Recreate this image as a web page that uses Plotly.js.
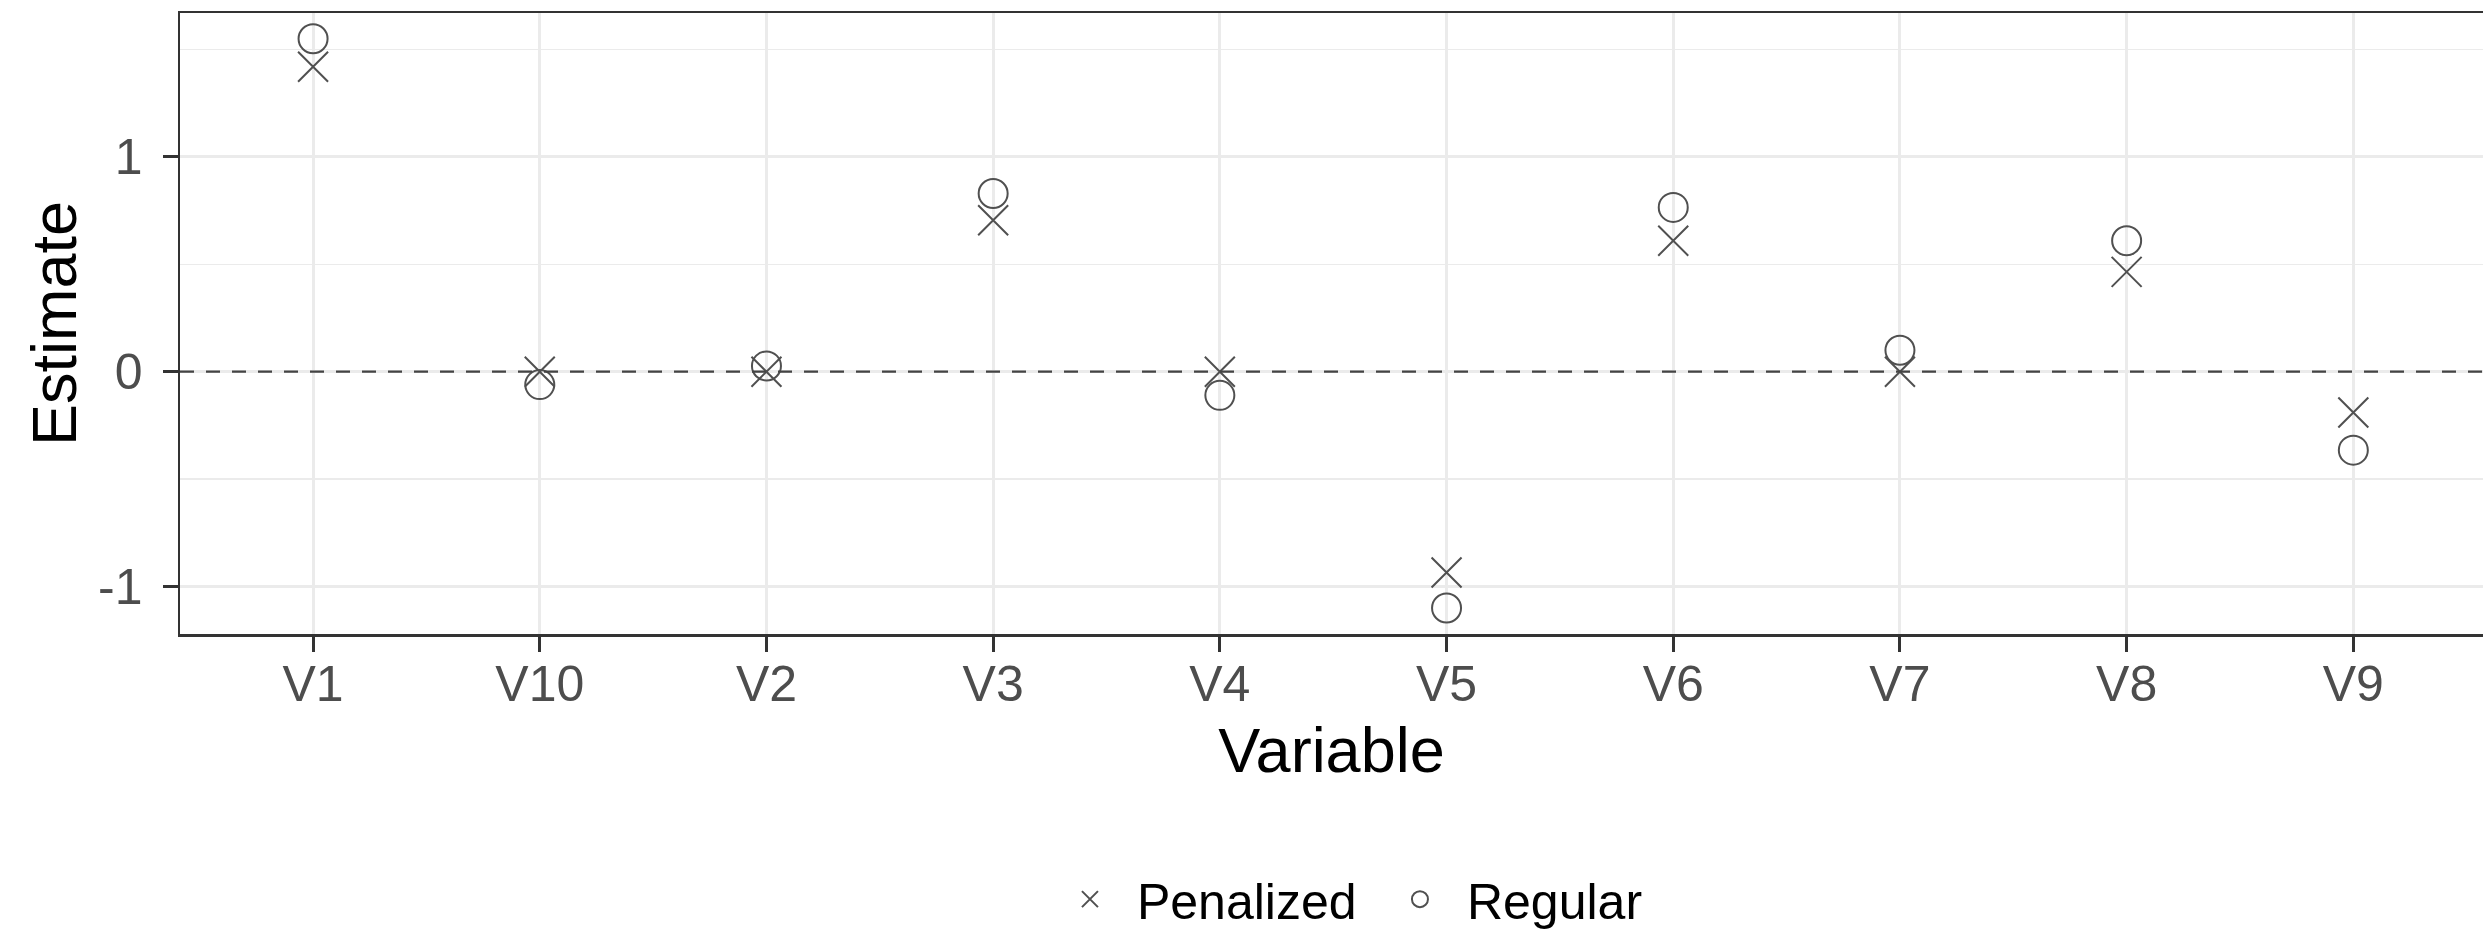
<!DOCTYPE html>
<html>
<head>
<meta charset="utf-8">
<script src="https://cdn.plot.ly/plotly-3.0.1.min.js"></script>
<style>
  html, body { margin: 0; padding: 0; overflow: hidden; background: #ffffff; }
  #chart { width: 2483px; height: 931px; }
</style>
</head>
<body>
<div id="chart"></div>
<script>
// Category order as in the reference (alphabetical factor levels)
const variables = ["V1", "V10", "V2", "V3", "V4", "V5", "V6", "V7", "V8", "V9"];
// Penalized estimates
const penalized = [1.42, 0.0, 0.0, 0.705, 0.0, -0.935, 0.61, 0.0, 0.465, -0.19];
// Regular estimates
const regular = [1.55, -0.06, 0.027, 0.83, -0.11, -1.10, 0.765, 0.10, 0.61, -0.365];
const seriesNames = ["Penalized", "Regular"];
const yTickVals = [-1, 0, 1];
const yTickText = ["-1", "0", "1"];
const referenceLevel = 0;

const FONT = '"Liberation Sans", Arial, Helvetica, sans-serif';
const markerColor = '#505050';

const traces = [
  {
    type: 'scatter', mode: 'markers', name: seriesNames[0],
    x: variables, y: penalized,
    marker: { symbol: 'x-thin-open', size: 30, color: markerColor,
              line: { color: markerColor, width: 2 } },
    hoverinfo: 'x+y+name'
  },
  {
    type: 'scatter', mode: 'markers', name: seriesNames[1],
    x: variables, y: regular,
    marker: { symbol: 'circle-open', size: 29, color: markerColor,
              line: { color: markerColor, width: 2 } },
    hoverinfo: 'x+y+name'
  }
];

const layout = {
  width: 2483, height: 931,
  paper_bgcolor: '#ffffff', plot_bgcolor: '#ffffff',
  font: { family: FONT, color: '#000000', size: 50 },
  margin: { l: 180, r: 0, t: 13, b: 297, pad: 0, autoexpand: false },
  showlegend: true,
  legend: {
    orientation: 'h', x: 0.518, xanchor: 'center', y: -0.427, yanchor: 'middle',
    font: { family: FONT, size: 50, color: '#000000' },
    itemwidth: 84, entrywidth: 231, tracegroupgap: 0, bgcolor: 'rgba(0,0,0,0)'
  },
  xaxis: {
    type: 'category', categoryorder: 'array', categoryarray: variables,
    range: [-0.587, 9.572], autorange: false,
    showgrid: true, gridcolor: '#EBEBEB', gridwidth: 3,
    zeroline: false,
    showline: true, linecolor: '#333333', linewidth: 2.5, mirror: true,
    ticks: 'outside', ticklen: 15, tickwidth: 3, tickcolor: '#333333',
    tickfont: { family: FONT, size: 50, color: '#4D4D4D' },
    ticklabelstandoff: -11,
    title: { text: 'Variable', font: { family: FONT, size: 63, color: '#000000' }, standoff: 18 },
    fixedrange: true
  },
  yaxis: {
    range: [-1.221, 1.670], autorange: false,
    tickvals: yTickVals, ticktext: yTickText,
    showgrid: true, gridcolor: '#EBEBEB', gridwidth: 3,
    minor: { dtick: 0.5, tick0: 0, showgrid: true, gridcolor: '#EBEBEB', gridwidth: 1.5, ticks: '' },
    zeroline: false,
    showline: true, linecolor: '#333333', linewidth: 2.5, mirror: false,
    ticks: 'outside', ticklen: 15, tickwidth: 3, tickcolor: '#333333',
    tickfont: { family: FONT, size: 50, color: '#4D4D4D' },
    ticklabelstandoff: 10,
    title: { text: 'Estimate', font: { family: FONT, size: 63, color: '#000000' }, standoff: 1 },
    fixedrange: true
  },
  shapes: [
    { type: 'line', xref: 'paper', yref: 'y', x0: 0, x1: 1, y0: referenceLevel, y1: referenceLevel,
      layer: 'above', line: { color: '#444444', width: 2.2, dash: '14px,12px' } }
  ]
};

Plotly.newPlot('chart', traces, layout, { displayModeBar: false, staticPlot: true });
</script>
</body>
</html>
